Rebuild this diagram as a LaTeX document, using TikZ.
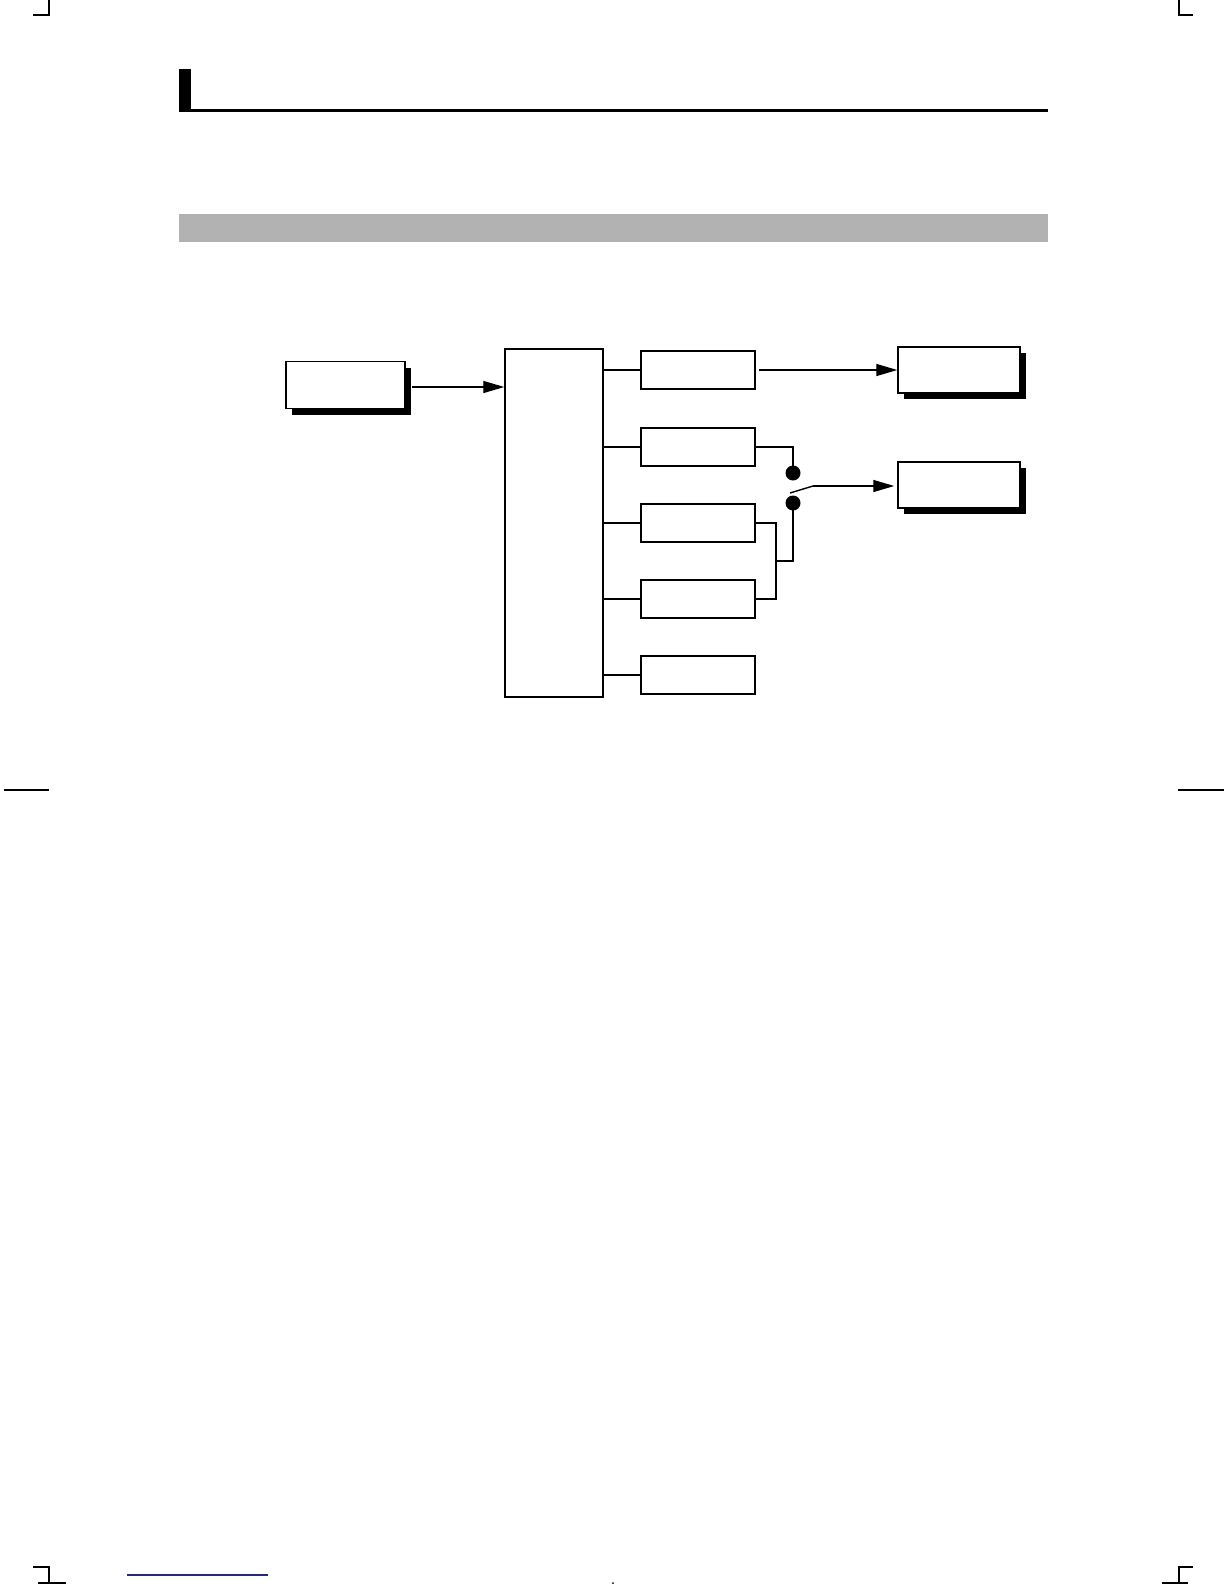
\documentclass[tikz,border=0pt]{standalone}
\usetikzlibrary{arrows.meta,shadows,calc}
\definecolor{barGray}{HTML}{B2B2B2}
\definecolor{linkBlue}{HTML}{1F2A80}
\tikzset{
  box/.style={draw=black,fill=white,line width=1.5pt,inner sep=0pt,rectangle},
  sbox/.style={box,minimum width=119pt,minimum height=47pt,
     drop shadow={shadow xshift=6pt,shadow yshift=-6pt,opacity=1,fill=black}},
  cbox/.style={box,minimum width=114pt,minimum height=38pt},
  wire/.style={line width=1.4pt,black},
  bigarrow/.style={wire,-{Triangle[length=21pt,width=12pt]}},
  dotnode/.style={circle,fill=black,inner sep=0pt,minimum size=15pt},
  cropmark/.style={line width=1.2pt,black}
}
\begin{document}
\begin{tikzpicture}[x=1pt,y=-1pt]
\useasboundingbox (0,0) rectangle (1224,1584);
% crop marks
\draw[cropmark] (49,0) -- (49,15) -- (33,15);
\draw[cropmark] (1179,0) -- (1179,15) -- (1193,15);
\draw[cropmark] (4,790) -- (49,790);
\draw[cropmark] (1178,790) -- (1224,790);
\draw[cropmark] (33,1567) -- (49,1567) -- (49,1584);
\draw[cropmark] (38,1583) -- (66,1583);
\draw[cropmark] (1179,1584) -- (1179,1567) -- (1193,1567);
\draw[cropmark] (1162,1583) -- (1188,1583);
\draw[line width=1.2pt,linkBlue] (127,1575) -- (268,1575);
\fill (613,1583) circle (1pt);
% header
\fill[black] (179,69) rectangle (191,112);
\fill[black] (179,109) rectangle (1048,112);
\fill[barGray] (179,214) rectangle (1048,242);
% nodes
\node[sbox] (A) at (345.5,385) {};
\node[box,minimum width=98pt,minimum height=348pt] (B) at (554,523) {};
\node[cbox] (C1) at (698,370) {};
\node[cbox] (C2) at (698,447) {};
\node[cbox] (C3) at (698,523) {};
\node[cbox] (C4) at (698,599) {};
\node[cbox] (C5) at (698,675) {};
\node[sbox,minimum width=122pt,minimum height=46pt] (D1) at (959,370) {};
\node[sbox,minimum width=122pt,minimum height=46pt] (D2) at (959,485) {};
\node[dotnode] (S1) at (793,473) {};
\node[dotnode] (S2) at (793,503) {};
% connectors
\draw[bigarrow] ($(A.east)+(6,2)$) -- (B.west |- {$(A.east)+(0,2)$});
\foreach \c in {C1,C2,C3,C4,C5} \draw[wire] (B.east |- \c.west) -- (\c.west);
\draw[bigarrow] ($(C1.east)+(3,0)$) -- (D1.west |- C1.east);
\draw[wire] (C2.east) -| (S1.center);
\coordinate (J) at (776,561);
\draw[wire] (C3.east) -| (J |- C4.east) -- (C4.east);
\draw[wire] (J) -| (S2.center);
\coordinate (K1) at (790,493);
\coordinate (K2) at (813,486);
\draw[wire] (K1) -- (K2);
\draw[bigarrow] (K2) -- ($(D2.west |- K2)+(-3,0)$);
\end{tikzpicture}
\end{document}
